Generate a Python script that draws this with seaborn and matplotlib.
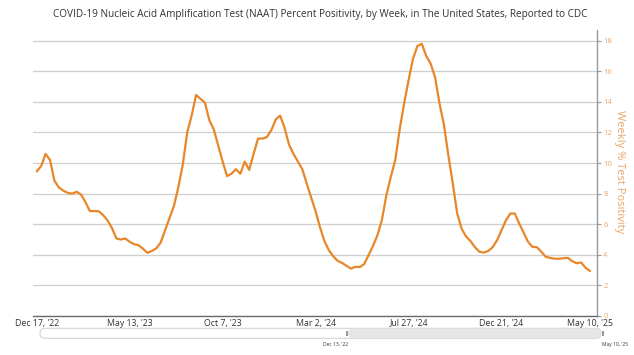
import matplotlib
matplotlib.use("Agg")
import matplotlib.pyplot as plt
import seaborn as sns
import pandas as pd
from matplotlib.patches import FancyBboxPatch, Rectangle

# ---- data ----
weeks = list(range(126))
positivity = [
    9.45, 9.8, 10.6, 10.2, 8.85, 8.4, 8.2, 8.05, 8.0, 8.12,
    7.95, 7.45, 6.86, 6.86, 6.85, 6.6, 6.25, 5.75, 5.07, 5.0,
    5.07, 4.85, 4.7, 4.63, 4.4, 4.13, 4.25, 4.42, 4.8, 5.6,
    6.4, 7.2, 8.43, 9.9, 12.0, 13.1, 14.45, 14.2, 13.95, 12.8,
    12.2, 11.15, 10.1, 9.15, 9.3, 9.6, 9.3, 10.1, 9.55, 10.6,
    11.6, 11.6, 11.7, 12.15, 12.85, 13.1, 12.3, 11.2, 10.6, 10.1,
    9.6, 8.66, 7.75, 6.85, 5.8, 4.9, 4.3, 3.9, 3.6, 3.47,
    3.28, 3.1, 3.22, 3.2, 3.4, 4.0, 4.6, 5.3, 6.3, 7.9,
    9.1, 10.2, 12.2, 13.9, 15.4, 16.8, 17.65, 17.8, 17.0, 16.5,
    15.6, 13.9, 12.5, 10.5, 8.66, 6.7, 5.7, 5.2, 4.9, 4.5,
    4.2, 4.15, 4.25, 4.5, 4.95, 5.6, 6.25, 6.7, 6.7, 6.05,
    5.45, 4.85, 4.52, 4.5, 4.2, 3.87, 3.8, 3.75, 3.74, 3.78,
    3.8, 3.58, 3.45, 3.5, 3.15, 2.95,
]
tick_weeks = [0, 21, 42, 63, 84, 105, 125]
tick_labels = ["Dec 17, '22", "May 13, '23", "Oct 7, '23", "Mar 2, '24",
               "Jul 27, '24", "Dec 21, '24", "May 10, '25"]
y_ticks = [0, 2, 4, 6, 8, 10, 12, 14, 16, 18]
title = ("COVID-19 Nucleic Acid Amplification Test (NAAT) Percent Positivity, "
         "by Week, in The United States, Reported to CDC")
y_label = "Weekly % Test Positivity"
nav_left_label = "Dec 13, '22"
nav_right_label = "May 10, '25"

# ---- style ----
sns.set_theme(style="white")
plt.rcParams['font.family'] = ['Open Sans', 'DejaVu Sans']

LINE = '#e8862a'
ORANGE_TXT = '#e9a468'

W, H = 634, 355
fig = plt.figure(figsize=(W / 100, H / 100), dpi=100)
fig.patch.set_facecolor('white')
ax = fig.add_axes([33 / W, 1 - 316 / H, (597 - 33) / W, (316 - 30) / H])

df = pd.DataFrame({'week': weeks, 'value': positivity})
sns.lineplot(data=df, x='week', y='value', ax=ax, color=LINE, linewidth=1.6)

ax.set_xlim(-0.84, 126.58)
ax.set_ylim(0, 18.7)

ax.yaxis.tick_right()
ax.set_yticks(y_ticks)
ax.set_yticklabels([str(v) for v in y_ticks])
ax.set_xticks(tick_weeks)
ax.set_xticklabels(tick_labels)
ax.set_xlabel('')
ax.set_ylabel('')

ax.grid(axis='y', color='#cfcfcf', linewidth=0.9)
ax.set_axisbelow(True)

for s in ['left', 'top']:
    ax.spines[s].set_visible(False)
ax.spines['bottom'].set_color('#6b6b6b')
ax.spines['bottom'].set_linewidth(1.0)
ax.spines['right'].set_color('#9a9a9a')
ax.spines['right'].set_linewidth(1.0)

ax.tick_params(axis='y', which='both', right=True, left=False, length=3,
               width=0.8, color='#9a9a9a', labelcolor=ORANGE_TXT,
               labelsize=5.5, pad=1.5)
ax.tick_params(axis='x', length=0, labelsize=6.3, labelcolor='#333333', pad=2.5)

fig.text(620 / W, 1 - 172 / H, y_label, rotation=270, ha='center', va='center',
         fontsize=8, color=ORANGE_TXT)
fig.text(320 / W, 1 - 15 / H, title, ha='center', va='center',
         fontsize=7.2, color='#333333')

# ---- navigator (decoration) ----
ov = fig.add_axes([0, 0, 1, 1], facecolor='none')
ov.set_xlim(0, W)
ov.set_ylim(H, 0)
ov.axis('off')
ov.add_patch(FancyBboxPatch((40, 328.3), 561, 10, boxstyle="round,pad=0,rounding_size=5",
                            facecolor='white', edgecolor='#d4d4d4', linewidth=0.8))
ov.add_patch(FancyBboxPatch((348, 328.6), 253, 9.4, boxstyle="round,pad=0,rounding_size=4.7",
                            facecolor='#e6e6e6', edgecolor='none'))
ov.add_patch(Rectangle((345.5, 330.5), 2.2, 5.5, facecolor='#999999', edgecolor='none'))
ov.add_patch(Rectangle((602, 330.5), 2.2, 5.5, facecolor='#999999', edgecolor='none'))
ov.text(336, 344.5, nav_left_label, ha='center', va='center', fontsize=3.6, color='#333333')
ov.text(615, 344.5, nav_right_label, ha='center', va='center', fontsize=3.6, color='#333333')

fig.savefig('out.png', dpi=100)
